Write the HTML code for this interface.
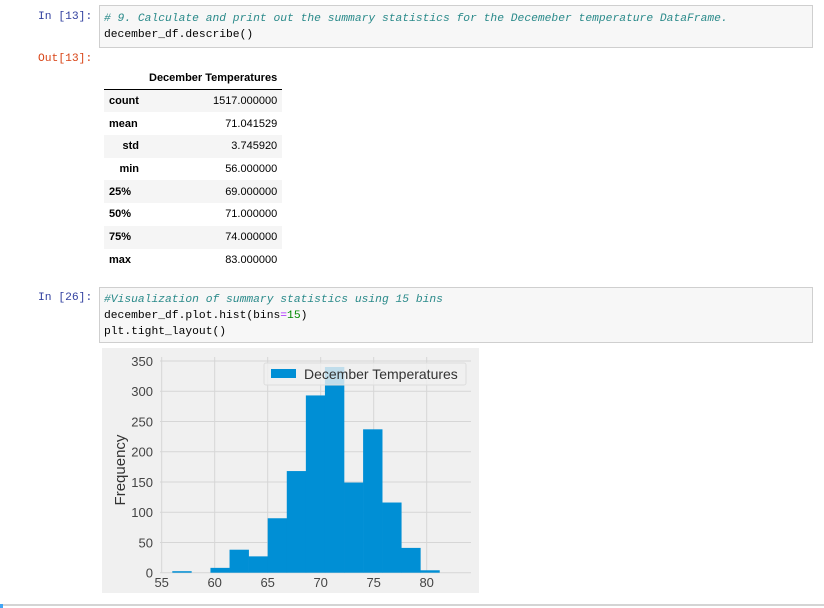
<!DOCTYPE html>
<html><head><meta charset="utf-8"><style>
body{margin:0;width:824px;height:608px;background:#fff;position:relative;overflow:hidden;font-family:"Liberation Sans",sans-serif}
.abs{position:absolute}
.prompt{font-family:"Liberation Mono",monospace;font-size:11.3px;color:#303f9f;white-space:pre}
.code{font-family:"Liberation Mono",monospace;font-size:11.3px;line-height:16px;white-space:pre;color:#000}
.box{background:#f7f7f7;border:1px solid #cfcfcf;box-sizing:border-box}
.cm{color:#2a8a8a;font-style:italic}.nu{color:#080}.op{color:#aa22ff}
table{border-collapse:collapse;font-size:11px}
td,th{height:22.7px;padding:0 5px;box-sizing:border-box;white-space:nowrap}
th.i{text-align:right;font-weight:bold}
td{text-align:right}
tr.s{background:#f5f5f5}
</style></head><body>
<div class="abs prompt" style="left:38px;top:11px">In [13]:</div>
<div class="abs box" style="left:99px;top:5px;width:714px;height:43px">
<div class="code" style="position:absolute;left:4px;top:5px"><span class="cm"># 9. Calculate and print out the summary statistics for the Decemeber temperature DataFrame.</span>
december_df.describe()</div></div>
<div class="abs prompt" style="left:38px;top:53px;color:#d84315">Out[13]:</div>
<table class="abs" style="left:104px;top:67px">
<tr style="border-bottom:1px solid #000"><th style="width:40px"></th><th style="text-align:right;width:136px">December Temperatures</th></tr>
<tr class="s"><th class="i" style="text-align:left">count</th><td>1517.000000</td></tr>
<tr><th class="i" style="text-align:left">mean</th><td>71.041529</td></tr>
<tr class="s"><th class="i">std</th><td>3.745920</td></tr>
<tr><th class="i">min</th><td>56.000000</td></tr>
<tr class="s"><th class="i" style="text-align:left">25%</th><td>69.000000</td></tr>
<tr><th class="i" style="text-align:left">50%</th><td>71.000000</td></tr>
<tr class="s"><th class="i" style="text-align:left">75%</th><td>74.000000</td></tr>
<tr><th class="i" style="text-align:left">max</th><td>83.000000</td></tr>
</table>
<div class="abs prompt" style="left:38px;top:292px">In [26]:</div>
<div class="abs box" style="left:99px;top:287px;width:714px;height:56px">
<div class="code" style="position:absolute;left:4px;top:4px"><span class="cm">#Visualization of summary statistics using 15 bins</span>
december_df.plot.hist(bins<span class="op">=</span><span class="nu">15</span>)
plt.tight_layout()</div></div>
<svg class="abs" style="left:0;top:0" width="824" height="608">
<rect x="102" y="348" width="377" height="245" fill="#f0f0f0"/>
<g id="grid"></g><g id="bars"></g><g id="ticks"></g>
<text transform="translate(125,470) rotate(-90)" text-anchor="middle" font-size="15" fill="#333">Frequency</text>
<g>
<rect x="264" y="363" width="202" height="22" rx="2" fill="#f0f0f0" fill-opacity="0.8" stroke="#ddd"/>
<rect x="271" y="369" width="25" height="9" fill="#008fd5"/>
<text x="304" y="379" font-size="14" fill="#333">December Temperatures</text>
</g>
<line x1="0" y1="605" x2="824" y2="605" stroke="#aaa"/>
<rect x="0" y="604" width="3" height="4" fill="#42a5f5"/>
</svg>
<script>
const binStart = 56, binWidth = 1.8;
const counts = [2, 0, 8, 38, 27, 90, 168, 293, 340, 149, 237, 116, 41, 4, 0];
const yTicks = [0, 50, 100, 150, 200, 250, 300, 350];
const xTicks = [55, 60, 65, 70, 75, 80];
const X = v => 161.7 + (v - 55) * 10.6;
const Y = v => 572.7 - v * 0.605;
const NS = "http://www.w3.org/2000/svg";
function mk(t, a, p){const e=document.createElementNS(NS,t);for(const k in a)e.setAttribute(k,a[k]);p.appendChild(e);return e;}
const grid=document.getElementById('grid'), bars=document.getElementById('bars'), ticks=document.getElementById('ticks');
yTicks.forEach(v=>{
  const l=mk('line',{x1:160,x2:471,y1:Y(v),y2:Y(v),stroke:'#d6d6d6','stroke-width':1},grid);
  
  
  const t=mk('text',{x:153,y:Y(v)+5,'text-anchor':'end','font-size':13,fill:'#444'},ticks);
  t.textContent=v;
  
  
});
xTicks.forEach(v=>{
  const l=mk('line',{x1:X(v),x2:X(v),y1:357,y2:573,stroke:'#d6d6d6','stroke-width':1},grid);
  
  
  const t=mk('text',{x:X(v),y:587,'text-anchor':'middle','font-size':13,fill:'#444'},ticks);
  t.textContent=v;
  
  
});
counts.forEach((c,i)=>{
  if(c<=0)return;
  const x0=X(binStart+i*binWidth), x1=X(binStart+(i+1)*binWidth);
  const h=Math.max(Y(0)-Y(c),1.5);
  const r=mk('rect',{x:x0,y:Y(0)-h,width:x1-x0+0.3,height:h,fill:'#008fd5'},bars);
  
  
});
</script>
</body></html>
